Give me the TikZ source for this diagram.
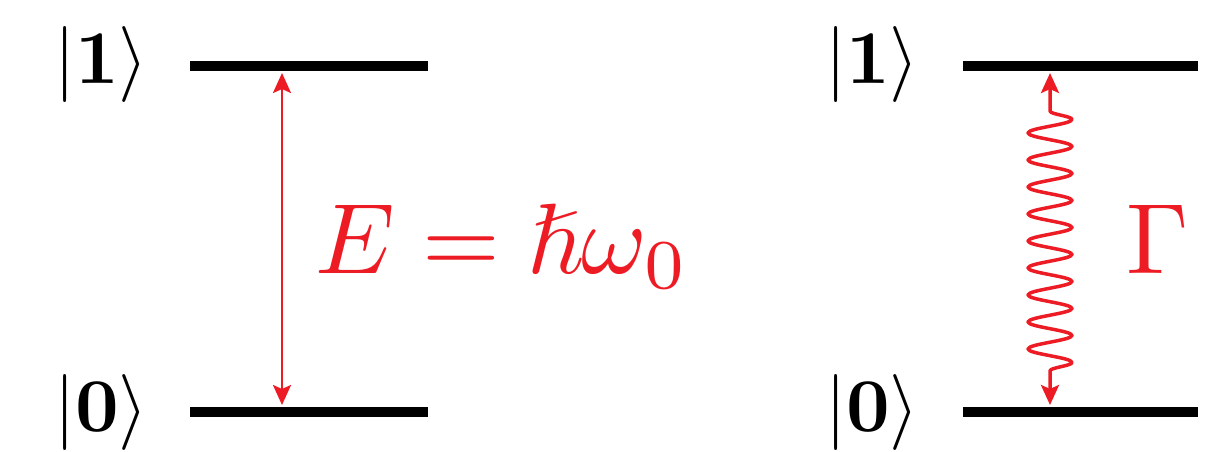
\documentclass[tikz,border=0pt]{standalone}
\usepackage{amsmath,amssymb}
\usetikzlibrary{arrows.meta,decorations.pathmorphing}
\definecolor{tred}{RGB}{237,28,36}
\tikzset{
  level/.style={line width=10pt},
  ket/.style={anchor=base east, inner sep=0pt, scale=7.6, transform shape},
  redlab/.style={anchor=base west, inner sep=0pt, text=tred, scale=10, transform shape},
  gap/.style={{Stealth[length=20pt,width=18pt,inset=4pt]}-{Stealth[length=20pt,width=18pt,inset=4pt]}, draw=tred, line width=2.5pt},
  wave/.style={gap, line width=3.5pt, line join=round, decorate, decoration={snake, segment length=27pt, amplitude=22pt, pre length=38pt, post length=24pt}}
}
\begin{document}
\begin{tikzpicture}[x=1pt,y=-1pt]
\useasboundingbox (0,0) rectangle (1219,451);
% left system
\coordinate (la1) at (190,66); \coordinate (lb1) at (428,66);
\coordinate (la0) at (190,412); \coordinate (lb0) at (428,412);
\draw[level] (la1) -- (lb1);
\draw[level] (la0) -- (lb0);
\node[ket] (k1l) at (150,83) {$|\mathbf{1}\rangle$};
\node[ket] (k0l) at (150,431) {$|\mathbf{0}\rangle$};
\coordinate (at) at (282,73);
\coordinate (ab) at (282,405);
\draw[gap] (ab) -- (at);
\node[redlab] (E) at (313,273) {$E=\hslash\omega_0$};
% right system
\coordinate (ra1) at (963,66); \coordinate (rb1) at (1198,66);
\coordinate (ra0) at (963,412); \coordinate (rb0) at (1198,412);
\draw[level] (ra1) -- (rb1);
\draw[level] (ra0) -- (rb0);
\node[ket] (k1r) at (921,83) {$|\mathbf{1}\rangle$};
\node[ket] (k0r) at (921,431) {$|\mathbf{0}\rangle$};
\coordinate (wt) at (1050,73);
\coordinate (wb) at (1050,405);
\draw[wave] (wt) -- (wb);
\node[redlab] (G) at (1124,273) {$\Gamma$};
\end{tikzpicture}
\end{document}
